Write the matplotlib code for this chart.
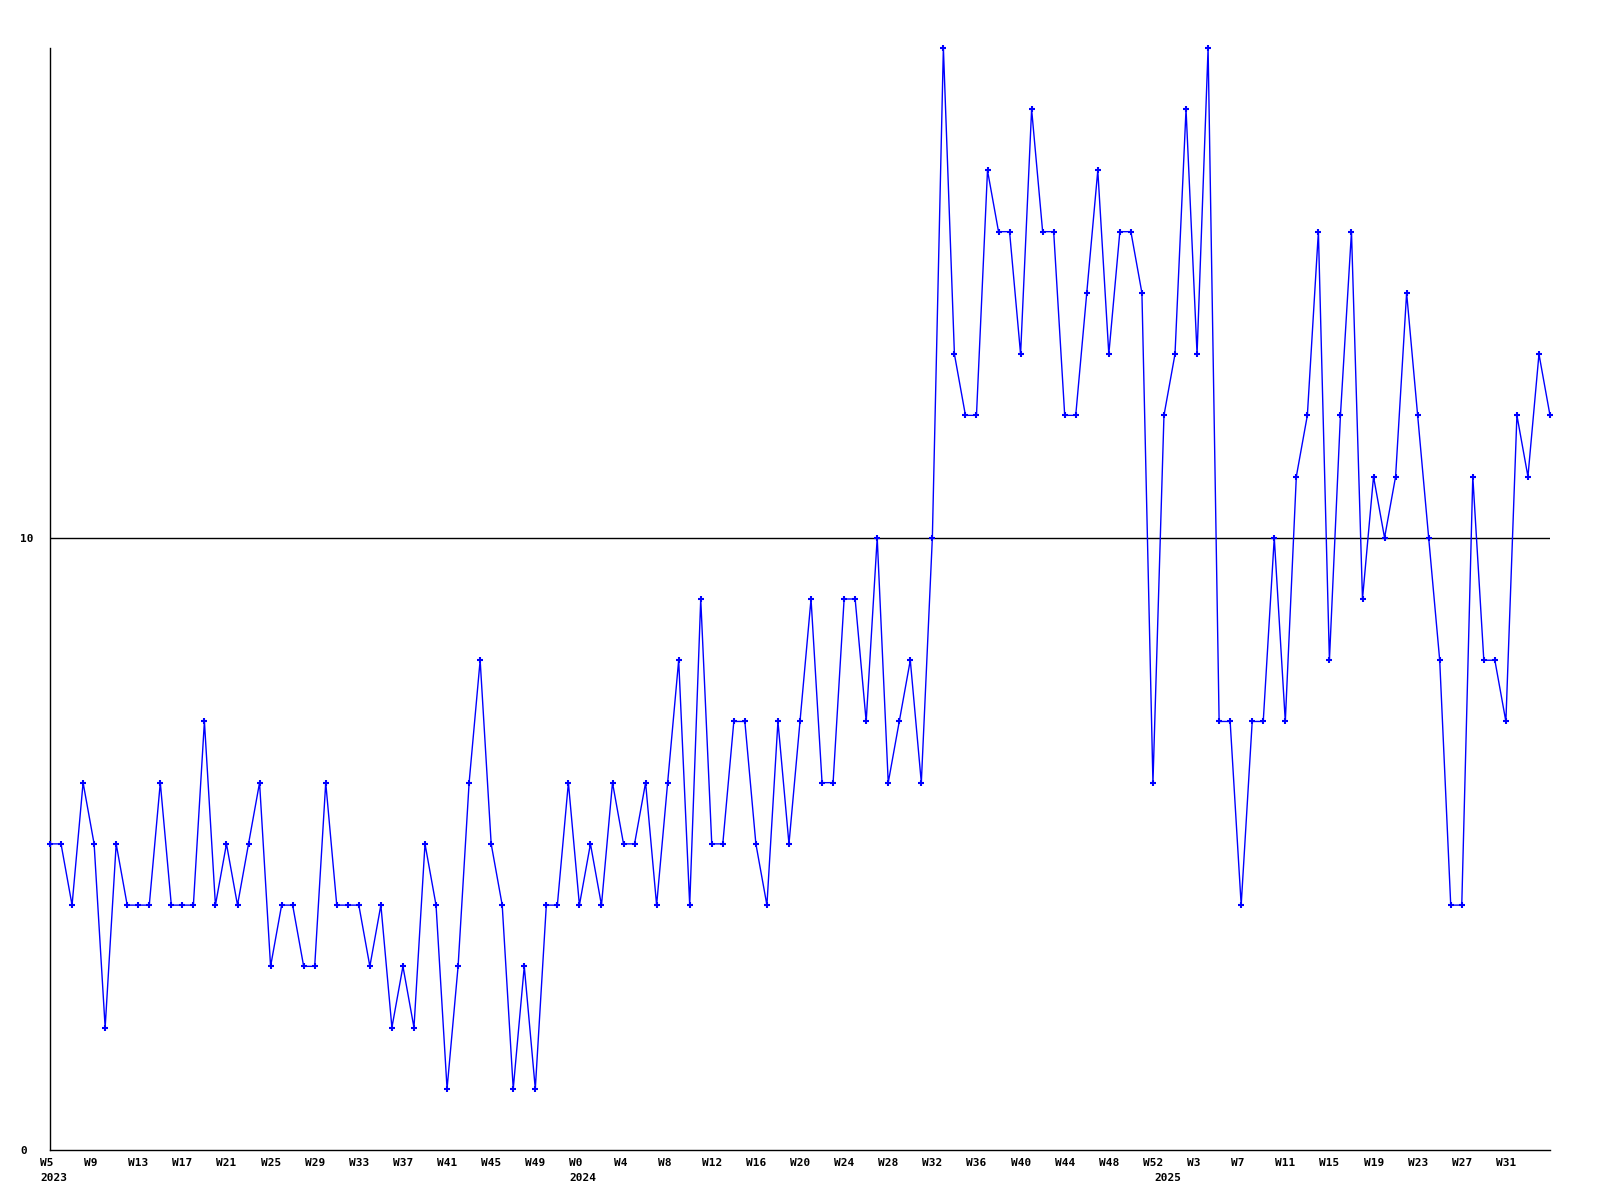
import matplotlib.pyplot as plt
import matplotlib.transforms as mtransforms

# weekly counts, 2023 W5 .. 2025 W35
counts = [5, 5, 4, 6, 5, 2, 5, 4, 4, 4, 6, 4, 4, 4, 7, 4, 5, 4, 5, 6,
          3, 4, 4, 3, 3, 6, 4, 4, 4, 3, 4, 2, 3, 2, 5, 4, 1, 3, 6, 8,
          5, 4, 1, 3, 1, 4, 4, 6, 4, 5, 4, 6, 5, 5, 6, 4, 6, 8, 4, 9,
          5, 5, 7, 7, 5, 4, 7, 5, 7, 9, 6, 6, 9, 9, 7, 10, 6, 7, 8, 6,
          10, 18, 13, 12, 12, 16, 15, 15, 13, 17, 15, 15, 12, 12, 14, 16, 13, 15, 15, 14,
          6, 12, 13, 17, 13, 18, 7, 7, 4, 7, 7, 10, 7, 11, 12, 15, 8, 12, 15, 9,
          11, 10, 11, 14, 12, 10, 8, 4, 4, 11, 8, 8, 7, 12, 11, 13, 12]

week_labels = ["W5", "W9", "W13", "W17", "W21", "W25", "W29", "W33", "W37",
               "W41", "W45", "W49", "W0", "W4", "W8", "W12", "W16", "W20",
               "W24", "W28", "W32", "W36", "W40", "W44", "W48", "W52", "W3",
               "W7", "W11", "W15", "W19", "W23", "W27", "W31"]

years = ["2023", "2024", "2025"]
year_start = [0, 48, 101]  # index of first week of each year

y_ticks = [0, 10]
ref_level = 10

fig = plt.figure(figsize=(16, 12), dpi=100)
ax = fig.add_axes([50 / 1600, 50 / 1200, 1500 / 1600, 1102 / 1200])

x = list(range(len(counts)))
ax.plot(x, counts, color="#0000ff", linewidth=1.0, marker="+",
        markersize=4, markeredgewidth=1.5, clip_on=False, zorder=3)
ax.axhline(ref_level, color="black", linewidth=1.0, zorder=2)

ax.set_xlim(0, len(counts) - 1)
ax.set_ylim(0, 18)

for side in ["top", "right"]:
    ax.spines[side].set_visible(False)
for side in ["left", "bottom"]:
    ax.spines[side].set_linewidth(1.0)

font = dict(family="DejaVu Sans Mono", weight="bold", size=8)

ax.set_yticks(y_ticks)
ax.set_yticklabels([str(v) for v in y_ticks], fontdict=font, ha="left")
ax.tick_params(axis="y", length=0, pad=21.6)

# week labels every 4 weeks, years underneath at the start of each year
ax.xaxis.remove_overlapping_locs = False
ax.set_xticks(x[:len(week_labels) * 4:4])
ax.set_xticklabels(week_labels, fontdict=font, ha="left", va="top")
ax.set_xticks(year_start, minor=True)
ax.set_xticklabels(years, minor=True, fontdict=font, ha="left", va="top")
ax.tick_params(axis="x", which="major", length=0, pad=6)
ax.tick_params(axis="x", which="minor", length=0, pad=16.5)

shift = mtransforms.ScaledTranslation(-10 / 100, 0, fig.dpi_scale_trans)
for lbl in ax.get_xticklabels() + ax.get_xticklabels(minor=True):
    lbl.set_transform(lbl.get_transform() + shift)

fig.savefig("out.png", dpi=100)
